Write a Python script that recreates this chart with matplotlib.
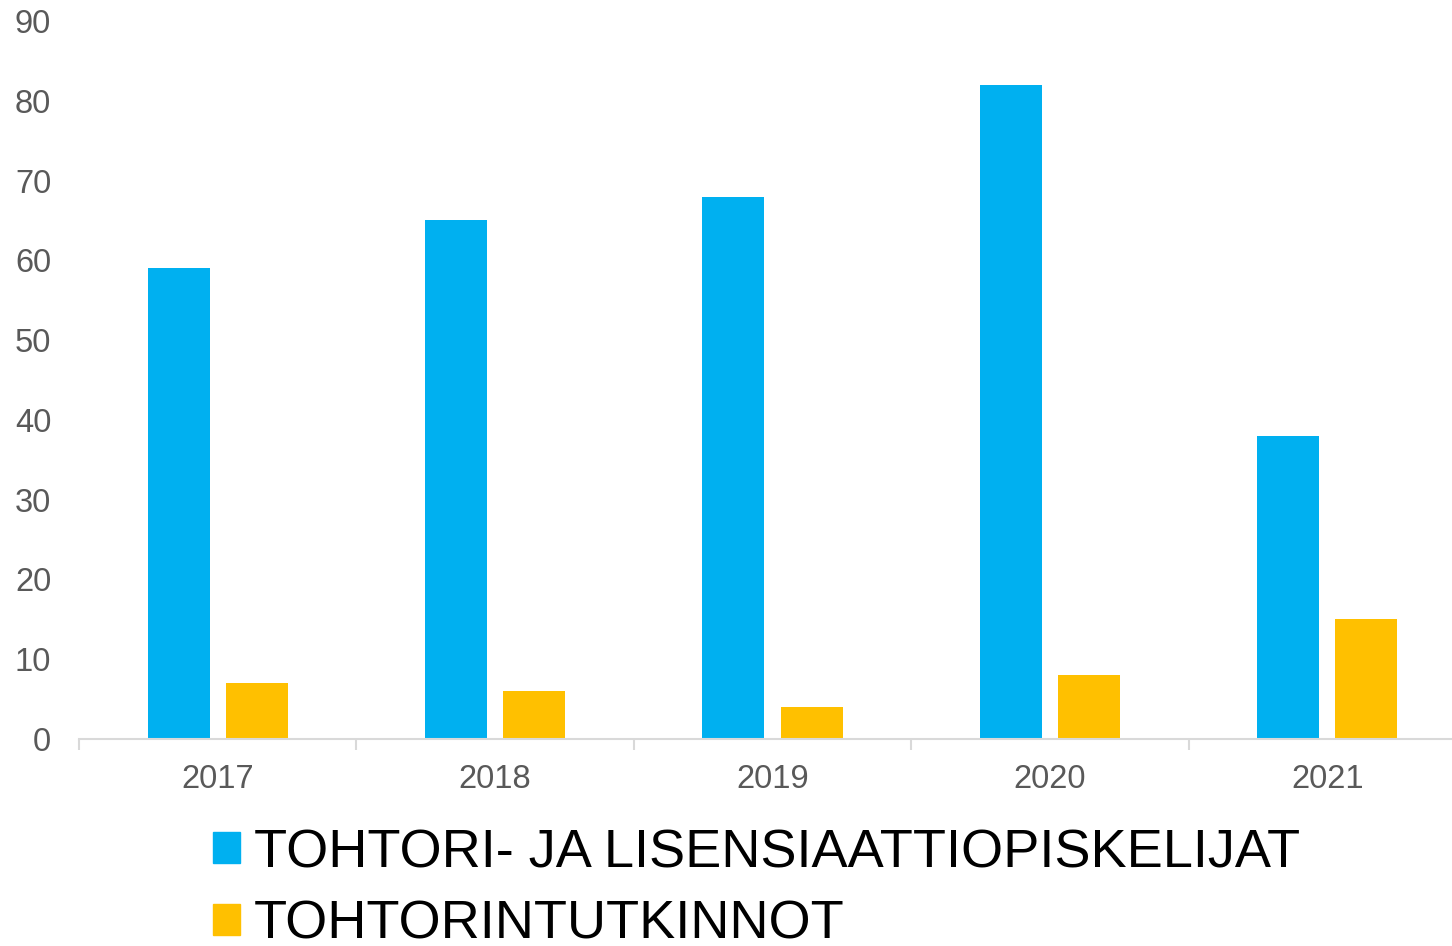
import numpy as np
import matplotlib.pyplot as plt
from matplotlib.patches import Patch

plt.rcParams['font.family'] = ['Liberation Sans', 'DejaVu Sans']

years = ['2017', '2018', '2019', '2020', '2021']
students = [59, 65, 68, 82, 38]
degrees = [7, 6, 4, 8, 15]
labels = ['TOHTORI- JA LISENSIAATTIOPISKELIJAT', 'TOHTORINTUTKINNOT']
colors = ['#00B0F0', '#FFC000']

fig = plt.figure(figsize=(14.52, 9.46), dpi=100)
# plot area runs a little past the right edge of the figure, as in the original
ax = fig.add_axes([79 / 1452, 1 - 739 / 946, (1466 - 79) / 1452, 718 / 946])

x = np.arange(len(years))
w = 0.223
ax.bar(x - 0.141, students, w, color=colors[0])
ax.bar(x + 0.141, degrees, w, color=colors[1])

ax.set_xlim(-0.5, len(years) - 0.5)
ax.set_ylim(0, 90)
ax.set_yticks(range(0, 91, 10))
ax.set_xticks(x)
ax.set_xticklabels(years)
ax.set_xticks(np.arange(len(years)) - 0.5, minor=True)

for s in ['top', 'right', 'left']:
    ax.spines[s].set_visible(False)
ax.spines['bottom'].set_color('#D9D9D9')
ax.spines['bottom'].set_linewidth(1.5)
ax.tick_params(axis='y', length=0, pad=20, labelsize=23.5, labelcolor='#595959')
ax.tick_params(axis='x', which='major', length=0, pad=18, labelsize=23.5, labelcolor='#595959')
ax.tick_params(axis='x', which='minor', length=8, width=1.5, color='#D9D9D9')

handles = [Patch(color=c) for c in colors]
fig.legend(handles, labels, loc='upper left', bbox_to_anchor=(213 / 1452, 1 - 828 / 946),
           frameon=False, fontsize=39, handlelength=0.5, handleheight=0.5,
           handletextpad=0.25, labelspacing=0.4, borderpad=0, borderaxespad=0)

fig.savefig('out.png', dpi=100)
